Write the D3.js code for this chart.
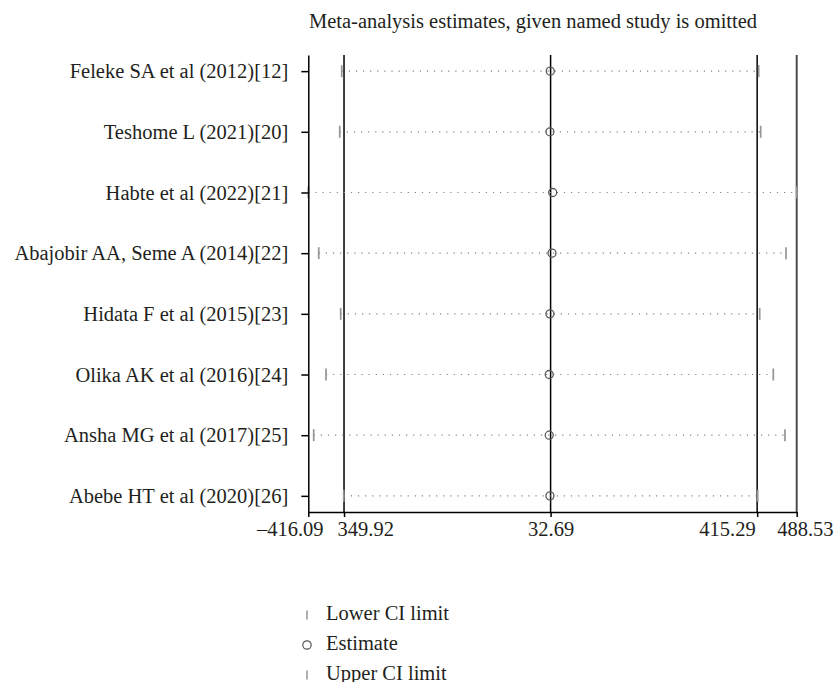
<!DOCTYPE html>
<html>
<head>
<meta charset="utf-8">
<script src="https://cdn.jsdelivr.net/npm/d3@7"></script>
<style>
    body { margin: 0; background: #ffffff; }
    svg { display: block; font-family: "Liberation Serif", "DejaVu Serif", serif; }
</style>
</head>
<body>
<svg id="chart"></svg>
<script>

// DATA

const studies = [
    "Feleke SA et al (2012)[12]",
    "Teshome L (2021)[20]",
    "Habte et al (2022)[21]",
    "Abajobir AA, Seme A (2014)[22]",
    "Hidata F et al (2015)[23]",
    "Olika AK et al (2016)[24]",
    "Ansha MG et al (2017)[25]",
    "Abebe HT et al (2020)[26]"
];

const estimates = [32.1, 31.5, 36.6, 35.3, 31.5, 30.2, 30.2, 31.5];
const lowerLimits = [-354.2, -357.9, -416.09, -396.8, -356.1, -383.3, -406.1, -350.5];
const upperLimits = [418.1, 421.8, 488.53, 468.7, 420.0, 445.2, 466.8, 416.3];

// overall estimate and its CI, plus the axis extremes
const summaryValues = [-349.92, 32.69, 415.29];
const axisTicks = [-416.09, -349.92, 32.69, 415.29, 488.53];
const axisTickLabels = ["\u2013416.09", "349.92", "32.69", "415.29", "488.53"];

const legendLabels = ["Lower CI limit", "Estimate", "Upper CI limit"];
const titleText = "Meta-analysis estimates, given named study is omitted";


// LAYOUT

let width = 834;
let height = 682;

let plotTop = 55;
let plotBottom = 512;
let plotLeft = 308.3;
let plotRight = 796.7;

let fontSize = 20.5;
let textColor = "#231f20";
let markColor = "#58595b";
let limitColor = "#939598";

// the labels near the ends are pushed apart so they do not collide
let tickAnchors = ["end", "start", "middle", "end", "start"];
let tickShift = [14.7, -7, 0, -2, -20];

let svg = d3.select("#chart")
    .attr("width", width)
    .attr("height", height);

let x = d3.scaleLinear()
    .domain([axisTicks[0], axisTicks[axisTicks.length - 1]])
    .range([plotLeft, plotRight]);

let y = d3.scalePoint()
    .domain(studies)
    .range([plotTop, plotBottom])
    .padding(0.266);


// TITLE

svg.append("text")
    .attr("x", 309)
    .attr("y", 28)
    .attr("font-size", fontSize)
    .attr("fill", textColor)
    .text(titleText);


// SUMMARY LINES

for (let value of summaryValues) {
    svg.append("line")
        .attr("x1", x(value))
        .attr("x2", x(value))
        .attr("y1", plotTop)
        .attr("y2", plotBottom)
        .attr("stroke", "#000")
        .attr("stroke-width", 1.5);
}

// right edge of the plot region
svg.append("line")
    .attr("x1", plotRight)
    .attr("x2", plotRight)
    .attr("y1", plotTop)
    .attr("y2", plotBottom)
    .attr("stroke", "#4d4d4f")
    .attr("stroke-width", 2);


// ROWS

for (let i = 0; i < studies.length; i++) {

    let rowY = y(studies[i]);

    svg.append("line")
        .attr("x1", x(lowerLimits[i]))
        .attr("x2", x(upperLimits[i]))
        .attr("y1", rowY)
        .attr("y2", rowY)
        .attr("stroke", "#808285")
        .attr("stroke-width", 1.2)
        .attr("stroke-dasharray", "1.2,5.9");

    for (let limit of [lowerLimits[i], upperLimits[i]]) {
        svg.append("line")
            .attr("x1", x(limit))
            .attr("x2", x(limit))
            .attr("y1", rowY - 6)
            .attr("y2", rowY + 6)
            .attr("stroke", limitColor)
            .attr("stroke-width", 1.7);
    }

    svg.append("circle")
        .attr("cx", x(estimates[i]))
        .attr("cy", rowY)
        .attr("r", 4)
        .attr("fill", "none")
        .attr("stroke", markColor)
        .attr("stroke-width", 1.3);

}


// AXES

let yAxis = svg.append("g")
    .attr("transform", "translate(" + plotLeft + ",0)")
    .call(d3.axisLeft(y).tickSize(7).tickSizeOuter(0).tickPadding(13));

let xAxis = svg.append("g")
    .attr("transform", "translate(0," + plotBottom + ")")
    .call(
        d3.axisBottom(x)
            .tickValues(axisTicks)
            .tickFormat(function (d, i) { return axisTickLabels[i]; })
            .tickSize(5)
            .tickSizeOuter(0)
    );

for (let axis of [xAxis, yAxis]) {
    axis.attr("font-family", null).attr("font-size", fontSize);
    axis.selectAll("path, line").attr("stroke", "#000").attr("stroke-width", 1.5);
    axis.selectAll("text").attr("fill", textColor);
}

xAxis.selectAll(".tick text")
    .attr("dy", null)
    .attr("y", 24)
    .attr("text-anchor", function (d, i) { return tickAnchors[i]; })
    .attr("dx", function (d, i) { return tickShift[i]; });


// LEGEND

let legendX = 307;
let legendY = [615, 645, 675];

for (let i = 0; i < legendLabels.length; i++) {

    if (i === 1) {
        svg.append("circle")
            .attr("cx", legendX)
            .attr("cy", legendY[i])
            .attr("r", 4.2)
            .attr("fill", "none")
            .attr("stroke", markColor)
            .attr("stroke-width", 1.2);
    } else {
        svg.append("line")
            .attr("x1", legendX)
            .attr("x2", legendX)
            .attr("y1", legendY[i] - 4.5)
            .attr("y2", legendY[i] + 4.5)
            .attr("stroke", limitColor)
            .attr("stroke-width", 1.5);
    }

    svg.append("text")
        .attr("x", legendX + 19)
        .attr("y", legendY[i] + 4.5)
        .attr("font-size", fontSize)
        .attr("fill", textColor)
        .text(legendLabels[i]);

}

</script>
</body>
</html>
